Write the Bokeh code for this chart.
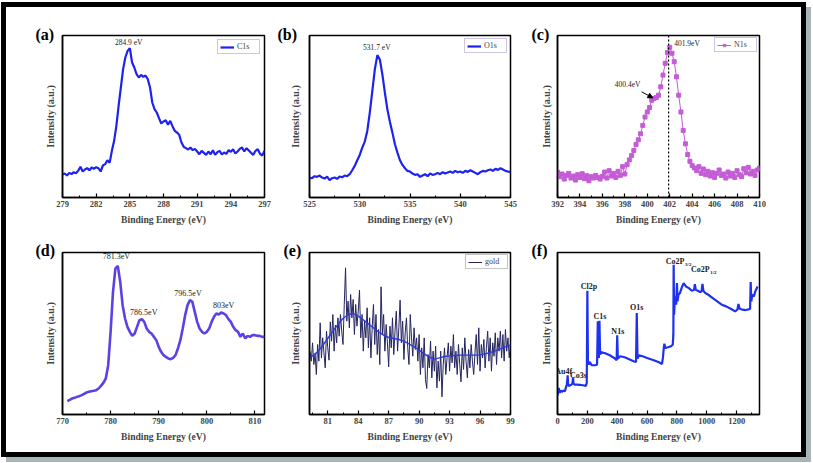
import numpy as np
from bokeh.plotting import figure
from bokeh.layouts import row, column
from bokeh.models import Range1d, FixedTicker, Label, Span, Arrow, NormalHead, Div
from bokeh.embed import file_html
from bokeh.resources import INLINE

SERIF = "Liberation Serif"

# ---------------- data ----------------
# (a) C1s
a_start, a_step = 279.0, 0.2
a_int = [69, 72, 66, 74, 70, 76, 73, 80, 92, 78,
         84, 88, 82, 90, 86, 91, 88, 78, 96, 100,
         112, 104, 140, 170, 215, 275, 330, 385, 420, 440,
         448, 405, 390, 370, 360, 368, 362, 366, 355, 330,
         285, 265, 255, 238, 222, 228, 232, 218, 230, 214,
         200, 195, 188, 165, 152, 148, 144, 150, 142, 146,
         138, 130, 140, 134, 128, 138, 130, 142, 128, 136,
         140, 129, 135, 131, 142, 137, 145, 132, 138, 146,
         150, 138, 148, 141, 134, 128, 140, 145, 131, 126,
         140]
a_ticks = [279, 282, 285, 288, 291, 294, 297]

# (b) O1s
b_start, b_step = 525.0, 0.25
b_int = [60, 58, 64, 62, 66, 60, 57, 63, 52, 58,
         60, 56, 63, 61, 66, 64, 70, 82, 95, 112,
         128, 150, 168, 200, 255, 320, 385, 428, 415, 370,
         315, 265, 228, 195, 160, 135, 112, 98, 88, 80,
         78, 72, 68, 70, 62, 66, 70, 64, 72, 68,
         70, 74, 70, 76, 72, 75, 78, 74, 80, 76,
         78, 74, 80, 77, 82, 78, 74, 70, 76, 80,
         78, 82, 84, 80, 86, 83, 88, 84, 80, 78,
         77]
b_ticks = [525, 530, 535, 540, 545]

# (c) N1s
c_start, c_step = 392.0, 0.2
c_int = [75, 62, 70, 55, 66, 72, 58, 64, 52, 68,
         60, 71, 56, 65, 50, 62, 58, 66, 60, 55,
         63, 76, 58, 80, 64, 72, 60, 78, 66, 92,
         70, 98, 112, 125, 140, 158, 172, 190, 215, 240,
         255, 268, 290, 295, 298, 305, 330, 365, 400, 432,
         448, 430, 405, 360, 305, 255, 200, 160, 128, 108,
         95, 88, 80, 92, 72, 85, 68, 78, 64, 74,
         60, 72, 82, 66, 70, 58, 76, 64, 72, 60,
         80, 68, 62, 86, 74, 90, 70, 78, 66, 82,
         88]
c_ticks = [392, 394, 396, 398, 400, 402, 404, 406, 408, 410]

# (d) Co2p
d_start, d_step = 771.0, 0.5
d_int = [40, 44, 48, 50, 53, 55, 58, 62, 66, 68,
         70, 71, 73, 78, 86, 95, 108, 148, 248, 368,
         438, 446, 398, 328, 288, 263, 248, 236, 243, 263,
         283, 286, 278, 258, 248, 243, 233, 223, 203, 188,
         178, 173, 168, 166, 170, 178, 198, 223, 258, 298,
         328, 343, 338, 308, 278, 258, 248, 243, 248, 258,
         278, 293, 303, 300, 306, 303, 298, 286, 278, 263,
         253, 248, 233, 243, 228, 236, 233, 238, 238, 236,
         236, 233, 233]
d_ticks = [770, 780, 790, 800, 810]

# (e) gold (Au4f region)
e_start, e_step = 79.25, 0.125
e_int = [190, 160, 215, 150, 182, 120, 210, 160,
         275, 170, 230, 185, 140, 250, 200, 163,
         278, 220, 300, 190, 268, 215, 290, 235,
         300, 250, 210, 330, 440, 280, 340, 260,
         360, 290, 345, 240, 330, 265, 310, 373,
         230, 300, 190, 280, 230, 320, 200, 290,
         170, 260, 330, 210, 300, 180, 255, 150,
         383, 240, 300, 190, 270, 215, 143, 265,
         200, 290, 180, 250, 310, 190, 260, 343,
         215, 280, 165, 245, 290, 200, 150, 300,
         230, 175, 260, 195, 230, 160, 240, 120,
         200, 140, 230, 105, 78, 180, 140, 220,
         110, 190, 130, 205, 80, 160, 100, 190,
         53, 150, 200, 120, 170, 215, 130, 205,
         155, 240, 140, 190, 120, 210, 150, 98,
         200, 135, 230, 160, 110, 195, 140, 210,
         160, 120, 185, 240, 150, 260, 130, 210,
         170, 225, 140, 200, 250, 160, 230, 130,
         215, 175, 245, 150, 230, 190, 250, 170,
         240, 160, 255, 190, 230, 170, 215]
es_start, es_step = 79.0, 0.5
e_smooth = [165, 176, 188, 207, 228, 250, 270, 288, 300, 303,
            295, 284, 272, 260, 248, 238, 231, 228, 225, 220,
            212, 203, 193, 182, 172, 166, 170, 174, 176, 177,
            178, 178, 178, 178, 179, 182, 186, 191, 197, 203,
            208]
e_ticks = [81, 84, 87, 90, 93, 96, 99]

# (f) survey
f_E = [0, 8, 15, 22, 30, 40, 50, 58, 62, 65, 68, 71, 75, 85, 95, 100, 104, 108,
       115, 130, 150, 170, 190, 196, 200, 204, 208, 215, 230, 250, 265, 270, 273,
       277, 281, 285, 288, 292, 300, 320, 350, 380, 396, 400, 404, 420, 450, 480,
       510, 526, 531, 536, 545, 570, 600, 640, 680, 700, 706, 712, 716, 722, 740,
       760, 772, 776, 778, 781, 785, 790, 795, 800, 804, 810, 820, 835, 845, 860,
       880, 900, 915, 920, 926, 940, 955, 965, 971, 977, 990, 1010, 1040, 1070,
       1100, 1130, 1160, 1190, 1205, 1212, 1220, 1240, 1260, 1280, 1290, 1294,
       1298, 1305, 1315, 1325, 1340]
f_int = [58, 80, 65, 72, 68, 72, 70, 84, 88, 100, 118, 92, 86, 88, 90, 94, 110, 92,
         90, 90, 89, 88, 86, 95, 372, 160, 150, 158, 148, 148, 150, 280, 180,
         170, 282, 185, 180, 188, 186, 184, 178, 170, 163, 238, 168, 175, 172, 166,
         160, 158, 305, 168, 178, 175, 170, 164, 157, 152, 170, 200, 213, 200, 202,
         205, 210, 240, 450, 300, 340, 355, 330, 395, 340, 360, 365, 385, 395, 385,
         380, 372, 375, 392, 375, 372, 368, 370, 393, 372, 365, 360, 350, 340,
         330, 325, 318, 310, 315, 332, 318, 315, 314, 316, 318, 398,
         340, 360, 355, 370, 385]
f_ticks = [0, 200, 400, 600, 800, 1000, 1200]
f_labels = ["Au4f", "Co3s", "Cl2p", "C1s", "N1s", "O1s"]
f_label_E = [42, 140, 211, 284, 404, 531]
f_label_I = [130, 118, 385, 295, 250, 323]


def grid_x(start, step, n):
    return start + step * np.arange(n)


def minors(ticks, lo, hi):
    step = ticks[1] - ticks[0]
    out = []
    t = ticks[0] - step / 2.0
    while t <= hi:
        if t >= lo:
            out.append(t)
        t += step
    return out


def panel(w, h, borders, xr, yr, ticks, ystand, letter, loff, lstand):
    l, r, t, b = borders
    p = figure(width=w, height=h, x_range=Range1d(*xr), y_range=Range1d(*yr),
               output_backend="svg", toolbar_location=None,
               min_border_left=l, min_border_right=r, min_border_top=t,
               min_border_bottom=b)
    p.xgrid.visible = False
    p.ygrid.visible = False
    p.outline_line_color = "black"
    p.outline_line_width = 1.5
    p.background_fill_color = "white"
    p.border_fill_color = "white"
    xa = p.xaxis[0]
    xa.ticker = FixedTicker(ticks=ticks, minor_ticks=minors(ticks, xr[0], xr[1]))
    xa.major_tick_in = 4
    xa.major_tick_out = 0
    xa.minor_tick_in = 2
    xa.minor_tick_out = 0
    xa.axis_line_width = 1.5
    xa.major_tick_line_width = 1.2
    xa.axis_label = "Binding Energy (eV)"
    xa.axis_label_text_font = SERIF
    xa.axis_label_text_font_style = "bold"
    xa.axis_label_text_font_size = "9.6px"
    xa.axis_label_standoff = 4
    xa.major_label_text_font = SERIF
    xa.major_label_text_font_style = "bold"
    xa.major_label_text_font_size = "8.5px"
    xa.major_label_standoff = 3
    ya = p.yaxis[0]
    ya.ticker = FixedTicker(ticks=[])
    ya.major_tick_line_color = None
    ya.minor_tick_line_color = None
    ya.major_label_standoff = 0
    ya.axis_line_width = 1.5
    ya.axis_label = "Intensity (a.u.)"
    ya.axis_label_text_font = SERIF
    ya.axis_label_text_font_style = "bold"
    ya.axis_label_text_font_size = "10px"
    ya.axis_label_standoff = ystand
    # panel letter as the title, pulled left of the frame
    p.title.text = letter
    p.title.align = "left"
    p.title.offset = loff
    p.title.standoff = lstand
    p.title.vertical_align = "top"
    p.title.text_font = SERIF
    p.title.text_font_style = "bold"
    p.title.text_font_size = "16px"
    p.title.text_color = "black"
    return p


def style_legend(p, border_color, margin):
    lg = p.legend[0]
    lg.location = "top_right"
    lg.margin = margin
    lg.padding = 2
    lg.spacing = 0
    lg.glyph_height = 6
    lg.glyph_width = 14
    lg.label_height = 6
    lg.label_standoff = 3
    lg.label_text_font = SERIF
    lg.label_text_font_size = "8px"
    lg.border_line_color = border_color
    lg.border_line_width = 1
    lg.background_fill_color = "white"
    lg.background_fill_alpha = 1


def peak_label(p, x, y, text, size="7.5px", align="center", bold=False):
    p.add_layout(Label(x=x, y=y, text=text, text_font=SERIF,
                       text_font_size=size, text_align=align,
                       text_baseline="middle", text_color="#222222",
                       text_font_style="bold" if bold else "normal"))


# Row 1: frames y 35..197 ; row 2: frames y 252..414
# (a)
pa = panel(268, 233, (56, 10, 28, 43), (279, 297), (0, 486), a_ticks, 7, "(a)", -27, -18)
pa.line(grid_x(a_start, a_step, len(a_int)), a_int, line_color="#1e22f0",
        line_width=2.2, legend_label="C1s")
peak_label(pa, 284.9, 466, "284.9 eV")
style_legend(pa, "#9c8cc8", 4)

# (b)
pb = panel(248, 233, (35, 12, 28, 43), (525, 545), (0, 487), b_ticks, 9, "(b)", -32, -18)
pb.line(grid_x(b_start, b_step, len(b_int)), b_int, line_color="#1e22f0",
        line_width=2.2, legend_label="O1s")
peak_label(pb, 531.7, 450, "531.7 eV")
style_legend(pb, "#9c8cc8", 3)

# (c)
pc = panel(279, 233, (35, 42, 28, 43), (392, 410), (0, 483), c_ticks, 6, "(c)", -26, -18)
cx = grid_x(c_start, c_step, len(c_int))
pc.line(cx, c_int, line_color="#c45cd6", line_width=1, legend_label="N1s")
pc.scatter(cx, c_int, marker="square", size=4, fill_color="#c45cd6",
           line_color="#c45cd6", legend_label="N1s")
pc.add_layout(Span(location=401.9, dimension="height", line_color="black",
                   line_dash="2 2", line_width=1.2))
peak_label(pc, 402.4, 460, "401.9eV", align="left")
peak_label(pc, 398.25, 336, "400.4eV")
pc.add_layout(Arrow(end=NormalHead(size=5, fill_color="black", line_color="black"),
                    x_start=399.5, y_start=315, x_end=400.5, y_end=297,
                    line_color="black", line_width=1))
style_legend(pc, "#9c8cc8", 2)

# (d)
pd_ = panel(268, 212, (56, 10, 12, 38), (770, 812), (0, 486), d_ticks, 7, "(d)", -27, -21)
pd_.line(grid_x(d_start, d_step, len(d_int)), d_int, line_color="#5b42e6", line_width=2.6)
peak_label(pd_, 781.2, 473, "781.3eV", size="8px")
peak_label(pd_, 786.9, 305, "786.5eV", size="8px")
peak_label(pd_, 796.1, 362, "796.5eV", size="8px")
peak_label(pd_, 803.5, 326, "803eV", size="8px")

# (e)
pe = panel(248, 212, (35, 12, 12, 38), (79.2, 99), (0, 486), e_ticks, 9, "(e)", -26, -21)
pe.line(grid_x(e_start, e_step, len(e_int)), e_int, line_color="#25255e",
        line_width=1, legend_label="gold")
pe.line(grid_x(es_start, es_step, len(e_smooth)), e_smooth, line_color="#2a3ae0",
        line_width=1.4)
style_legend(pe, "#8a8a8a", 2)

# (f)
pf = panel(279, 212, (35, 42, 12, 38), (0, 1353), (0, 487), f_ticks, 6, "(f)", -26, -21)
pf.line(f_E, f_int, line_color="#1e30f0", line_width=2.2)
for t, xe, yi in zip(f_labels, f_label_E, f_label_I):
    peak_label(pf, xe, yi, t, size="8px", bold=True)
peak_label(pf, 787, 460, "Co2P", size="8px", bold=True)
peak_label(pf, 956, 435, "Co2P", size="8px", bold=True)
pf.add_layout(Label(x=787, y=460, x_offset=10, y_offset=-3, text="3/2", text_font=SERIF,
                    text_font_size="5px", text_font_style="bold", text_baseline="middle",
                    text_color="#222222"))
pf.add_layout(Label(x=956, y=435, x_offset=10, y_offset=-3, text="1/2", text_font=SERIF,
                    text_font_size="5px", text_font_style="bold", text_baseline="middle",
                    text_color="#222222"))


def bar(w, h, color):
    return Div(text="", width=w, height=h, margin=0,
               styles={"background-color": color})


GRAY = "#a7b4b8"
grid = row(column(pa, pd_), column(pb, pe), column(pc, pf))
layout = column(
    bar(811, 2, "white"),
    row(bar(1, 5, "white"), bar(805, 5, "black"), bar(5, 5, "white")),
    row(bar(1, 445, "white"), bar(5, 445, "black"), grid, bar(5, 445, "black"), bar(5, 445, GRAY)),
    row(bar(1, 5, "white"), bar(805, 5, "black"), bar(5, 5, GRAY)),
    row(bar(6, 5, "white"), bar(805, 5, GRAY)),
)

open("out.html", "w").write(file_html(layout, INLINE))
